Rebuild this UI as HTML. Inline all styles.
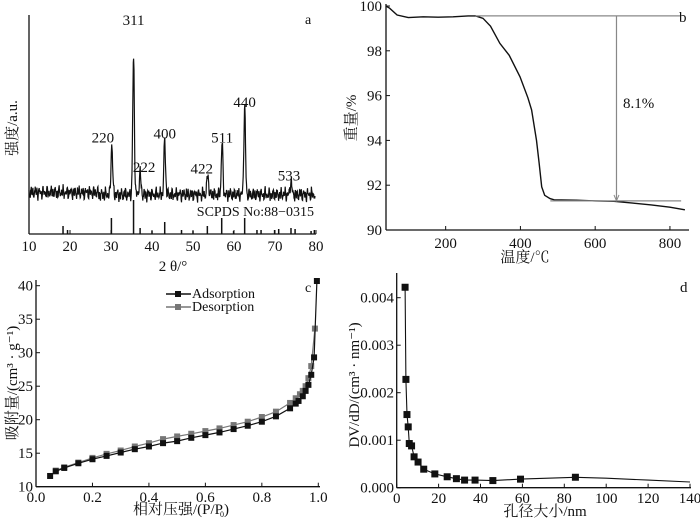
<!DOCTYPE html>
<html><head><meta charset="utf-8"><style>
body{margin:0;background:#fff;}
svg{display:block;font-family:"Liberation Serif","Noto Serif CJK SC",serif;}
</style></head><body>
<svg id="fig" width="700" height="521" viewBox="0 0 700 521"></svg>
<script>
// ---- Panel a data (XRD) ----
const xrdPeaks2T=[30.2,35.5,37.1,43.1,53.6,57.1,62.6,73.9];
const xrdPeakI=[37,100,16,40,15,38,64,10];
const xrdLabels=["220","311","222","400","422","511","440","533"];
const refSticks2T=[18.3,19.4,30.1,35.5,37.1,40.0,43.1,47.2,50.0,53.5,57.0,59.9,62.6,65.6,66.6,69.9,70.9,73.9,74.9,78.8,79.6];
const refStickH=[8,4,16,100,6,3,12,4,3,8,16,3,16,4,4,4,5,6,5,3,4];
const aTicks=[10,20,30,40,50,60,70,80];
// ---- Panel b data (TGA) ----
const tgaT=[40,50,70,100,140,180,220,260,280,300,320,345,370,399,420,430,443,450,457,465,479,490,550,600,650,700,750,800,840];
const tgaW=[100,99.9,99.6,99.48,99.52,99.5,99.52,99.56,99.56,99.45,99.1,98.33,97.8,96.84,95.9,95.36,94.0,93.0,91.93,91.55,91.4,91.35,91.33,91.3,91.28,91.2,91.12,91.02,90.9];
const bYTicks=[90,92,94,96,98,100];
const bXTicks=[200,400,600,800];
// ---- Panel c data (isotherm) ----
const adsP=[0.05,0.07,0.1,0.15,0.2,0.25,0.3,0.35,0.4,0.45,0.5,0.55,0.6,0.65,0.7,0.75,0.8,0.85,0.9,0.92,0.93,0.945,0.955,0.965,0.975,0.985,0.995];
const adsV=[11.6,12.3,12.8,13.5,14.1,14.6,15.1,15.6,16.0,16.5,16.8,17.3,17.7,18.1,18.6,19.1,19.7,20.5,21.7,22.4,22.8,23.5,24.3,25.2,26.7,29.3,40.7];
const desP=[0.07,0.1,0.15,0.2,0.25,0.3,0.35,0.4,0.45,0.5,0.55,0.6,0.65,0.7,0.75,0.8,0.85,0.9,0.92,0.935,0.945,0.955,0.965,0.975,0.988];
const desV=[12.4,12.9,13.6,14.3,14.9,15.4,16.0,16.5,17.1,17.5,17.9,18.3,18.7,19.2,19.7,20.4,21.2,22.5,23.2,23.8,24.3,25.0,26.2,28.0,33.6];
const cXTicks=[0,0.2,0.4,0.6,0.8,1.0];
const cYTicks=[10,15,20,25,30,35,40];
// ---- Panel d data (pore size) ----
const poreD=[4.0,4.4,4.9,5.5,6.0,7.1,8.3,10.2,12.9,18.2,24.1,28.5,32.4,37.4,45.9,59.1,85.3];
const poreV=[0.00422,0.00228,0.00154,0.00128,0.00093,0.00088,0.00065,0.00054,0.00039,0.00029,0.00023,0.00019,0.00016,0.00016,0.00015,0.00018,0.00022];
const poreTailD=[100,120,140];
const poreTailV=[0.0002,0.00016,0.00012];
const dXTicks=[0,20,40,60,80,100,120,140];
const dYTicks=[0,0.001,0.002,0.003,0.004];

const NS="http://www.w3.org/2000/svg";
const svg=document.getElementById('fig');
function el(tag,attrs,parent,text){const e=document.createElementNS(NS,tag);for(const k in attrs)e.setAttribute(k,attrs[k]);if(text!==undefined)e.textContent=text;(parent||svg).appendChild(e);return e;}
function grp(name){const g=el('g',{});return g;}
function txt(g,x,y,s,name,extra){const t=el('text',Object.assign({x:x,y:y,'font-size':14,fill:'#111'},extra||{}),g,s);return t;}
function path(pts){return pts.map((p,i)=>(i?'L':'M')+p[0].toFixed(1)+' '+p[1].toFixed(1)).join(' ');}

// ===== Panel a =====
(function(){
 const g=grp('panel-a-xrd');
 const xs=v=>29+(v-10)*4.1, base=200, ys=i=>base-i*1.36;
 el('line',{x1:29,y1:15,x2:29,y2:234,stroke:'#111','stroke-width':1.3},g);
 el('line',{x1:29,y1:234,x2:316,y2:234,stroke:'#111','stroke-width':1.3},g);
 aTicks.forEach(t=>{el('line',{x1:xs(t),y1:234,x2:xs(t),y2:230,stroke:'#111'},g);txt(g,xs(t),251,t,'x-tick-label',{'text-anchor':'middle','font-size':15});});
 let pts=[];
 for(let v=10;v<=79.8;v+=0.08){
  let I=0;xrdPeaks2T.forEach((p,k)=>{const w=0.2;I+=xrdPeakI[k]*Math.exp(-((v-p)*(v-p))/(2*w*w));});
  const n=(Math.sin(v*47.1)*Math.cos(v*13.7)+Math.sin(v*91.3)+0.8*Math.sin(v*163.7))*2.4+(v<27?1.5:0);
  pts.push([xs(v),ys(I+4+n)]);
 }
 const p=el('path',{d:path(pts),fill:'none',stroke:'#111','stroke-width':1.2},g);
 
 refSticks2T.forEach((v,i)=>{const h=refStickH[i]>=100?34:refStickH[i];
  const s=el('line',{x1:xs(v),y1:234,x2:xs(v),y2:234-h,stroke:'#111','stroke-width':1.5},g);
  });
 const lo=[[-9,-7],[0,0],[4,-6],[0,-7],[-6,-6],[0,-6],[0,-6],[-2,-6]];
 xrdLabels.forEach((l,i)=>{const x=xs(xrdPeaks2T[i])+lo[i][0], y=i===1?25:ys(xrdPeakI[i])+lo[i][1];txt(g,x,y,l,'peak-label-'+l,{'text-anchor':'middle','font-size':15});});
 txt(g,305,24,'a','panel-label-a');
 txt(g,314,216,'SCPDS No:88−0315','reference-card-label',{'text-anchor':'end'});
 txt(g,173,271,'2 θ/°','x-axis-title',{'text-anchor':'middle','font-size':15});
 txt(g,0,0,'强度/a.u.','y-axis-title',{transform:'translate(17,128) rotate(-90)','text-anchor':'middle','font-size':15});
})();

// ===== Panel b =====
(function(){
 const g=grp('panel-b-tga');
 const xs=t=>370.9+t*0.3738, ys=w=>230-(w-90)*22.4;
 el('line',{x1:386,y1:4,x2:386,y2:230,stroke:'#111','stroke-width':1.3},g);
 el('line',{x1:386,y1:230,x2:689,y2:230,stroke:'#111','stroke-width':1.3},g);
 bYTicks.forEach(t=>{el('line',{x1:386,y1:ys(t),x2:390,y2:ys(t),stroke:'#111'},g);txt(g,382,ys(t)+5,t,'y-tick-label',{'text-anchor':'end','font-size':15});});
 bXTicks.forEach(t=>{el('line',{x1:xs(t),y1:230,x2:xs(t),y2:226,stroke:'#111'},g);txt(g,xs(t),248,t,'x-tick-label',{'text-anchor':'middle','font-size':15});});
 const c=el('path',{d:path(tgaT.map((t,i)=>[xs(t),ys(tgaW[i])])),fill:'none',stroke:'#111','stroke-width':1.4},g);
 
 el('line',{x1:xs(280),y1:ys(99.56),x2:xs(830),y2:ys(99.56),stroke:'#888','stroke-width':1.3},g);
 el('line',{x1:xs(480),y1:ys(91.3),x2:xs(830),y2:ys(91.3),stroke:'#888','stroke-width':1.3},g);
 el('line',{x1:xs(657),y1:ys(99.56),x2:xs(657),y2:ys(91.3),stroke:'#888','stroke-width':1.2},g);
 el('path',{d:`M${xs(657)-2.5} ${ys(91.3)-6} L${xs(657)} ${ys(91.3)} L${xs(657)+2.5} ${ys(91.3)-6}`,fill:'none',stroke:'#888'},g);
 txt(g,623,108,'8.1%','mass-loss-label',{'font-size':15});
 txt(g,679,22,'b','panel-label-b',{'font-size':15});
 txt(g,525,262,'温度/℃','x-axis-title',{'text-anchor':'middle','font-size':15});
 txt(g,0,0,'重量/%','y-axis-title',{transform:'translate(356,118) rotate(-90)','text-anchor':'middle','font-size':15});
})();

// ===== Panel c =====
(function(){
 const g=grp('panel-c-isotherm');
 const xs=p=>36+p*282.3, ys=v=>486.7-(v-10)*6.7;
 el('line',{x1:36,y1:280,x2:36,y2:486.7,stroke:'#111','stroke-width':1.3},g);
 el('line',{x1:36,y1:486.7,x2:320,y2:486.7,stroke:'#111','stroke-width':1.3},g);
 cYTicks.forEach(t=>{el('line',{x1:36,y1:ys(t),x2:40,y2:ys(t),stroke:'#111'},g);txt(g,33,ys(t)+5,t,'y-tick-label',{'text-anchor':'end','font-size':15});});
 cXTicks.forEach(t=>{el('line',{x1:xs(t),y1:486.7,x2:xs(t),y2:482.7,stroke:'#111'},g);txt(g,xs(t),502,t.toFixed(1),'x-tick-label',{'text-anchor':'middle','font-size':15});});
 function series(P,V,col,name){
  const l=el('path',{d:path(P.map((p,i)=>[xs(p),ys(V[i])])),fill:'none',stroke:col,'stroke-width':1.2},g);
  
  P.forEach((p,i)=>{const r=el('rect',{x:xs(p)-3,y:ys(V[i])-3,width:6,height:6,fill:col},g);
   });
 }
 series(desP,desV,'#777','desorption');
 series(adsP,adsV,'#111','adsorption');
 const lg=grp('legend');g.appendChild(lg);
 [['Adsorption','#111',294],['Desorption','#777',307]].forEach(([n,c,y])=>{
  el('line',{x1:166,y1:y,x2:191,y2:y,stroke:c,'stroke-width':1.5},lg);
  el('rect',{x:175,y:y-3,width:6,height:6,fill:c},lg);
  txt(lg,192,y+4,n,'legend-entry-'+n.toLowerCase(),{'font-size':14});
 });
 txt(g,305,292,'c','panel-label-c');
 txt(g,178,514,'相对压强/(P/P','x-axis-title',{'text-anchor':'middle','font-size':15});
 txt(g,220,517,'0','x-axis-subscript',{'font-size':8});
 txt(g,224,514,')','x-axis-paren',{'font-size':15});
 txt(g,0,0,'吸附量/(cm³ · g⁻¹)','y-axis-title',{transform:'translate(17,383) rotate(-90)','text-anchor':'middle','font-size':15});
})();

// ===== Panel d =====
(function(){
 const g=grp('panel-d-pore-size');
 const xs=d=>396.7+d*2.095, ys=v=>487.7-v*47500;
 el('line',{x1:396.7,y1:273,x2:396.7,y2:487.7,stroke:'#111','stroke-width':1.3},g);
 el('line',{x1:396.7,y1:487.7,x2:691,y2:487.7,stroke:'#111','stroke-width':1.3},g);
 dYTicks.forEach(t=>{el('line',{x1:396.7,y1:ys(t),x2:400.7,y2:ys(t),stroke:'#111'},g);txt(g,394,ys(t)+5,t.toFixed(3),'y-tick-label',{'text-anchor':'end','font-size':15});});
 dXTicks.forEach(t=>{el('line',{x1:xs(t),y1:487.7,x2:xs(t),y2:483.7,stroke:'#111'},g);txt(g,xs(t),503,t,'x-tick-label',{'text-anchor':'middle','font-size':15});});
 const all=poreD.map((d,i)=>[xs(d),ys(poreV[i])]).concat(poreTailD.map((d,i)=>[xs(d),ys(poreTailV[i])]));
 const l=el('path',{d:path(all),fill:'none',stroke:'#111','stroke-width':1.1},g);
 
 poreD.forEach((d,i)=>{const r=el('rect',{x:xs(d)-3.5,y:ys(poreV[i])-3.5,width:7,height:7,fill:'#111'},g);
  });
 txt(g,680,292,'d','panel-label-d',{'font-size':15});
 txt(g,545,516,'孔径大小/nm','x-axis-title',{'text-anchor':'middle','font-size':15});
 txt(g,0,0,'DV/dD/(cm³ · nm⁻¹)','y-axis-title',{transform:'translate(359,385) rotate(-90)','text-anchor':'middle','font-size':15});
})();
</script>
</body></html>
